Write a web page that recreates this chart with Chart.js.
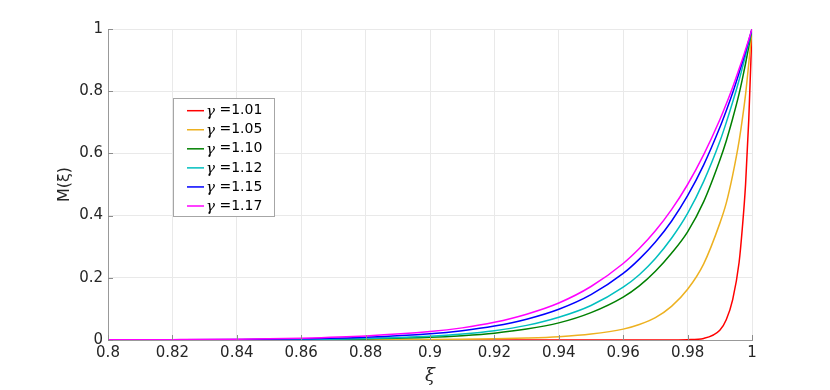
<!DOCTYPE html>
<html>
<head>
<meta charset="utf-8">
<script src="https://cdn.jsdelivr.net/npm/chart.js@4.4.1/dist/chart.umd.min.js"></script>
<style>
  html, body { margin: 0; padding: 0; background: #ffffff; }
  #wrap { width: 830px; height: 390px; position: relative; }
</style>
</head>
<body>
<div id="wrap"><canvas id="c" width="830" height="390"></canvas></div>
<script>
// ---- data ----
const xi = [0.8, 0.82, 0.84, 0.86, 0.88, 0.9, 0.91, 0.92, 0.93, 0.94, 0.95, 0.96, 0.965, 0.97, 0.975, 0.98, 0.985, 0.99, 0.992, 0.994, 0.996, 0.997, 0.998, 0.999, 1];

const gammaLabels = ['1.01', '1.05', '1.10', '1.12', '1.15', '1.17'];

const m101 = [0, 0, 0, 0, 0, 0, 0, 0, 0, 0, 0, 0, 0, 0.0001, 0.0003, 0.001, 0.005, 0.031, 0.065, 0.13, 0.25, 0.36, 0.5, 0.71, 1];
const m105 = [0, 0, 0.0001, 0.0003, 0.0007, 0.0015, 0.0025, 0.004, 0.0065, 0.0108, 0.019, 0.035, 0.05, 0.072, 0.108, 0.163, 0.245, 0.375, 0.44, 0.53, 0.64, 0.71, 0.79, 0.89, 1];
const m110 = [0.0001, 0.0002, 0.0005, 0.0014, 0.0036, 0.0085, 0.014, 0.022, 0.035, 0.055, 0.088, 0.138, 0.174, 0.221, 0.279, 0.348, 0.445, 0.578, 0.64, 0.712, 0.792, 0.839, 0.889, 0.943, 1];
const m112 = [0.0001, 0.0003, 0.0008, 0.002, 0.005, 0.012, 0.019, 0.03, 0.047, 0.073, 0.111, 0.17, 0.21, 0.262, 0.327, 0.407, 0.51, 0.638, 0.699, 0.765, 0.836, 0.875, 0.915, 0.956, 1];
const m115 = [0.0003, 0.0007, 0.0016, 0.0038, 0.009, 0.02, 0.03, 0.045, 0.067, 0.099, 0.146, 0.214, 0.26, 0.315, 0.382, 0.464, 0.563, 0.683, 0.737, 0.795, 0.859, 0.892, 0.927, 0.963, 1];
const m117 = [0.0006, 0.0012, 0.0026, 0.006, 0.013, 0.027, 0.039, 0.057, 0.083, 0.119, 0.172, 0.246, 0.294, 0.351, 0.419, 0.5, 0.596, 0.708, 0.759, 0.813, 0.872, 0.902, 0.934, 0.966, 1];

const xTicks = [0.8, 0.82, 0.84, 0.86, 0.88, 0.9, 0.92, 0.94, 0.96, 0.98, 1];
const yTicks = [0, 0.2, 0.4, 0.6, 0.8, 1];

const series = [m101, m105, m110, m112, m115, m117];
const colors = ['#ff0000', '#edb120', '#008000', '#00bfbf', '#0000ff', '#ff00ff'];

const datasets = series.map((vals, i) => ({
  label: 'γ =' + gammaLabels[i],
  data: xi.map((x, k) => ({ x: x, y: vals[k] })),
  borderColor: colors[i],
  backgroundColor: colors[i],
  borderWidth: 1.5,
  pointRadius: 0,
  fill: false,
  cubicInterpolationMode: 'monotone',
  order: series.length - i
}));

const tickFont = { family: '"DejaVu Sans", sans-serif', size: 15 };
const tickColor = '#262626';

// inward tick marks like the reference
const innerTicks = {
  id: 'innerTicks',
  afterDraw(chart) {
    const ctx = chart.ctx;
    const xs = chart.scales.x, ys = chart.scales.y;
    const a = chart.chartArea;
    ctx.save();
    ctx.strokeStyle = '#8c8c8c';
    ctx.lineWidth = 1;
    ctx.beginPath();
    xTicks.forEach(v => {
      const px = Math.round(xs.getPixelForValue(v)) + 0.5;
      ctx.moveTo(px, a.bottom);
      ctx.lineTo(px, a.bottom - 5);
    });
    yTicks.forEach(v => {
      const py = Math.round(ys.getPixelForValue(v)) + 0.5;
      ctx.moveTo(a.left, py);
      ctx.lineTo(a.left + 5, py);
    });
    ctx.stroke();
    ctx.restore();
  }
};

// legend box placed inside the axes, like the reference
const boxLegend = {
  id: 'boxLegend',
  afterDraw(chart) {
    const ctx = chart.ctx;
    const bx = 173.5, by = 98.5, bw = 101, bh = 118;
    ctx.save();
    ctx.fillStyle = '#ffffff';
    ctx.fillRect(bx, by, bw, bh);
    ctx.strokeStyle = '#a6a6a6';
    ctx.lineWidth = 1;
    ctx.strokeRect(bx, by, bw, bh);
    chart.data.datasets.forEach((ds, i) => {
      const y = 110.7 + i * 19.06;
      ctx.strokeStyle = ds.borderColor;
      ctx.lineWidth = 1.5;
      ctx.beginPath();
      ctx.moveTo(187, y);
      ctx.lineTo(204, y);
      ctx.stroke();
      ctx.fillStyle = '#000000';
      ctx.textBaseline = 'middle';
      ctx.textAlign = 'left';
      ctx.font = 'italic 15px "DejaVu Serif", serif';
      ctx.fillText('γ', 206, y + 1);
      const gw = ctx.measureText('γ').width;
      ctx.font = '14px "DejaVu Sans", sans-serif';
      ctx.fillText(' =' + gammaLabels[i], 206 + gw, y);
    });
    ctx.restore();
  }
};

new Chart(document.getElementById('c'), {
  type: 'line',
  data: { datasets: datasets },
  options: {
    responsive: false,
    animation: false,
    devicePixelRatio: 1,
    layout: { padding: { left: 0, right: 78, top: 29, bottom: 0 } },
    plugins: { legend: { display: false }, tooltip: { enabled: false } },
    scales: {
      x: {
        type: 'linear',
        min: 0.8, max: 1,
        afterBuildTicks(scale) { scale.ticks = xTicks.map(v => ({ value: v })); },
        afterFit(scale) { scale.height = 50; },
        ticks: {
          font: tickFont, color: tickColor, padding: 4, maxRotation: 0,
          callback: v => String(Number(v.toFixed(2)))
        },
        grid: { color: '#e9e9e9', drawTicks: false, lineWidth: 1 },
        border: { color: '#999999', width: 1 },
        title: {
          display: true, text: 'ξ', color: '#262626',
          font: { family: '"DejaVu Serif", serif', size: 18, style: 'italic' },
          padding: { top: 0, bottom: 3 }
        }
      },
      y: {
        type: 'linear',
        min: 0, max: 1,
        afterBuildTicks(scale) { scale.ticks = yTicks.map(v => ({ value: v })); },
        afterFit(scale) { scale.width = 108; },
        ticks: {
          font: tickFont, color: tickColor, padding: 5,
          callback: v => String(Number(v.toFixed(1)))
        },
        grid: { color: '#e9e9e9', drawTicks: false, lineWidth: 1 },
        border: { color: '#999999', width: 1 },
        title: {
          display: true, text: 'M(ξ)', color: '#262626',
          font: { family: '"DejaVu Sans", sans-serif', size: 16 },
          padding: { top: 55, bottom: 0 }
        }
      }
    }
  },
  plugins: [innerTicks, boxLegend]
});
</script>
</body>
</html>
